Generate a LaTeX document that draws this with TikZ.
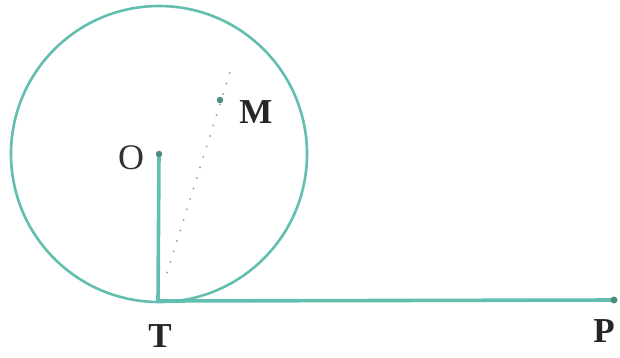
\documentclass[tikz,border=0pt]{standalone}
\usepackage{fontspec}
\setmainfont{Liberation Serif}
\definecolor{teal1}{RGB}{98,190,174}
\begin{document}
\begin{tikzpicture}[x=1pt,y=-1pt,
  lbl/.style={font=\fontsize{35}{35}\selectfont\bfseries, text=black!85, inner sep=0pt},
  lblr/.style={font=\fontsize{36}{36}\selectfont, text=black!80, inner sep=0pt},
  dotpt/.style={circle, fill=teal1!75!black, inner sep=0pt, minimum size=6.5pt},
  tline/.style={draw=teal1, line width=3.6pt},
  cline/.style={draw=teal1, line width=2.6pt}]
\useasboundingbox (0,0) rectangle (620,357);
\coordinate (Oc) at (159,154);
\coordinate (T) at (158,301);
\coordinate (P) at (614,300);
\coordinate (D) at (232,66);
\draw[cline] (Oc) circle[radius=148];
\draw[draw=teal1!40!gray!80, line width=2.2pt, line cap=round, dash pattern=on 0pt off 11pt, shorten <=30pt] (T) -- (D);
\draw[tline] (Oc) -- (T);
\draw[tline] (T) -- (P);
\node[dotpt] (O) at (Oc) {};
\node[dotpt] (M) at (220,100) {};
\node[dotpt, minimum size=7pt] (Pd) at (P) {};
\node[lblr] (Ol) at (131,158) {O};
\node[lbl] (Ml) at (256,112) {M};
\node[lbl] (Tl) at (160,336) {T};
\node[lbl] (Pl) at (604,331) {P};
\end{tikzpicture}
\end{document}
